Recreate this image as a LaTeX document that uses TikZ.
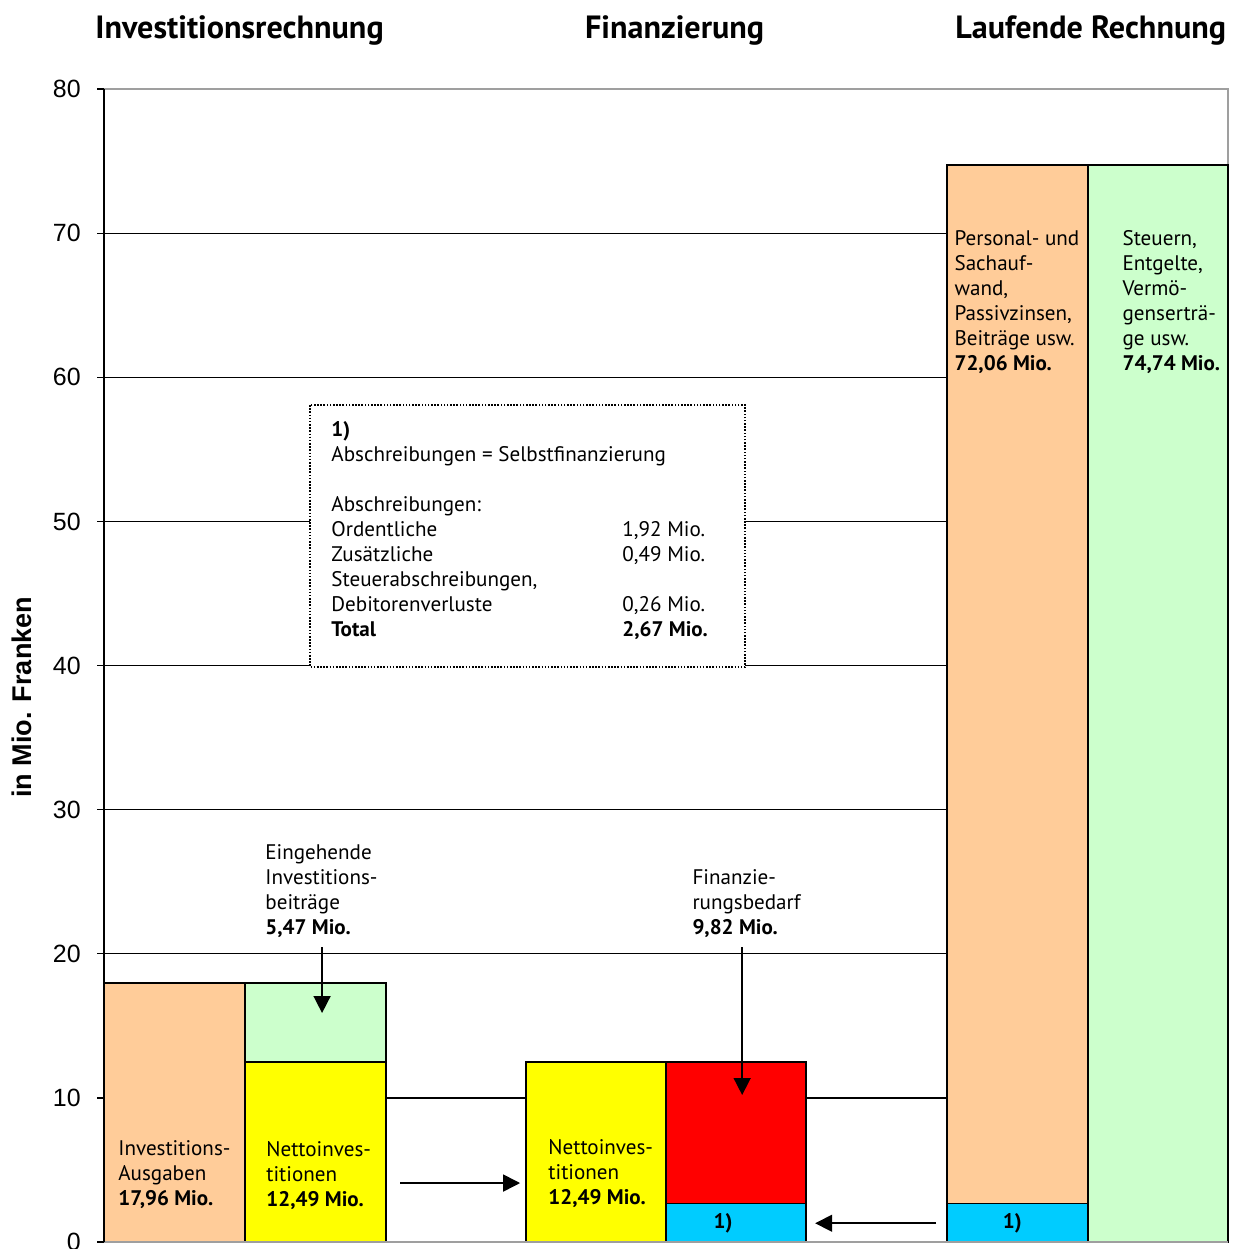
\documentclass[tikz,border=0pt]{standalone}
\usepackage{fontspec}
\setmainfont{PT Sans}
\newfontfamily\axisfont{Liberation Sans}
\usetikzlibrary{arrows.meta}
\definecolor{peach}{HTML}{FFCC99}
\definecolor{mint}{HTML}{CCFFCC}
\definecolor{sunny}{HTML}{FFFF00}
\definecolor{signal}{HTML}{FF0000}
\definecolor{sky}{HTML}{00CCFF}
\begin{document}
\begin{tikzpicture}[
  x=0.02cm, y=0.2882cm,
  >={Triangle[length=0.34cm, width=0.34cm]},
  txt/.style={anchor=base west, align=left, inner sep=0pt, font=\fontsize{12}{14.23}\selectfont},
  head/.style={anchor=base, inner sep=0pt, font=\fontsize{18.3}{21}\selectfont\bfseries},
  tick/.style={anchor=east, inner sep=0pt, font=\axisfont\fontsize{14.2}{17}\selectfont},
  seg/.style={draw=black, line width=1pt},
  gridline/.style={line width=0.8pt},
  frame/.style={line width=1pt, gray!75},
  flow/.style={->, line width=0.9pt},
]
  \useasboundingbox (0,-0.486) rectangle (1234,86.19);
  % grid and axes
  \foreach \v in {10,20,...,70} \draw[gridline] (104,\v) -- (1228,\v);
  \draw[frame] (104,80) -- (1228,80) -- (1228,0);
  \foreach \v in {0,10,...,80} {
    \draw[gridline] (97,\v) -- (104,\v);
    \node[tick] (t\v) at (81,\v) {\v};
  }
  \node[rotate=90, inner sep=0pt, font=\axisfont\bfseries\fontsize{15.4}{18}\selectfont] (ylab) at (22,37.8) {in Mio. Franken};
  % note box
  \draw[fill=white, line width=0.9pt, dash pattern=on 0.9pt off 0.9pt] (310,58.08) rectangle (745,39.9);
  \node[txt] (note) at (331,55.88) {%
    \begin{tabular}[t]{@{}p{5.82cm}@{}l@{}}
      \textbf{1)}\\
      \multicolumn{2}{@{}l@{}}{Abschreibungen = Selbstfinanzierung}\\
      \\
      Abschreibungen:\\
      Ordentliche & 1,92 Mio.\\
      Zusätzliche & 0,49 Mio.\\
      Steuerabschreibungen,\\
      Debitorenverluste & 0,26 Mio.\\
      \textbf{Total} & \textbf{2,67 Mio.}
    \end{tabular}};
  % bars
  \filldraw[seg, fill=peach]  (104,0) rectangle (245,17.96);
  \filldraw[seg, fill=sunny]  (245,0) rectangle (386,12.49);
  \filldraw[seg, fill=mint]   (245,12.49) rectangle (386,17.96);
  \filldraw[seg, fill=sunny]  (526,0) rectangle (666,12.49);
  \filldraw[seg, fill=sky]    (666,0) rectangle (806,2.67);
  \filldraw[seg, fill=signal] (666,2.67) rectangle (806,12.49);
  \filldraw[seg, fill=sky]    (947,0) rectangle (1088,2.67);
  \filldraw[seg, fill=peach]  (947,2.67) rectangle (1088,74.74);
  \filldraw[seg, fill=mint]   (1088,0) rectangle (1228,74.74);
  \draw[frame] (104,0) -- (1228,0);
  \draw[line width=1pt] (104,0) -- (104,80);
  % titles
  \node[head] (tinv) at (239.5,83.5) {Investitionsrechnung};
  \node[head] (tfin) at (674.5,83.5) {Finanzierung};
  \node[head] (tlr)  at (1090.5,83.5) {Laufende Rechnung};
  % labels (placed at the baseline of their last line)
  \node[txt] (invaus) at (118,2.50) {Investitions-\\Ausgaben\\\textbf{17,96 Mio.}};
  \node[txt] (nettoa) at (266,2.43) {Nettoinves-\\titionen\\\textbf{12,49 Mio.}};
  \node[txt] (nettob) at (548,2.57) {Nettoinves-\\titionen\\\textbf{12,49 Mio.}};
  \node[txt] (beitr)  at (265,21.37) {Eingehende\\Investitions-\\beiträge\\\textbf{5,47 Mio.}};
  \node[txt] (bedarf) at (692,21.37) {Finanzie-\\rungsbedarf\\\textbf{9,82 Mio.}};
  \node[txt] (aufw)   at (954,60.51) {Personal- und\\Sachauf-\\wand,\\Passivzinsen,\\Beiträge usw.\\\textbf{72,06 Mio.}};
  \node[txt] (ertr)   at (1122,60.51) {Steuern,\\Entgelte,\\Vermö-\\genserträ-\\ge usw.\\\textbf{74,74 Mio.}};
  \node[txt, anchor=base] (sfa) at (723,0.97) {\textbf{1)}};
  \node[txt, anchor=base] (sfb) at (1012,0.97) {\textbf{1)}};
  % arrows
  \coordinate (beitrS) at (322,20.47);
  \coordinate (beitrE) at (322,15.89);
  \coordinate (bedarfS) at (742,20.47);
  \coordinate (bedarfE) at (742,10.2);
  \coordinate (nettoS) at (400,4.09);
  \coordinate (nettoE) at (520,4.09);
  \coordinate (sfS) at (936,1.3);
  \coordinate (sfE) at (815,1.3);
  \draw[flow] (beitrS) -- (beitrE);
  \draw[flow] (bedarfS) -- (bedarfE);
  \draw[flow] (nettoS) -- (nettoE);
  \draw[flow] (sfS) -- (sfE);
\end{tikzpicture}
\end{document}
